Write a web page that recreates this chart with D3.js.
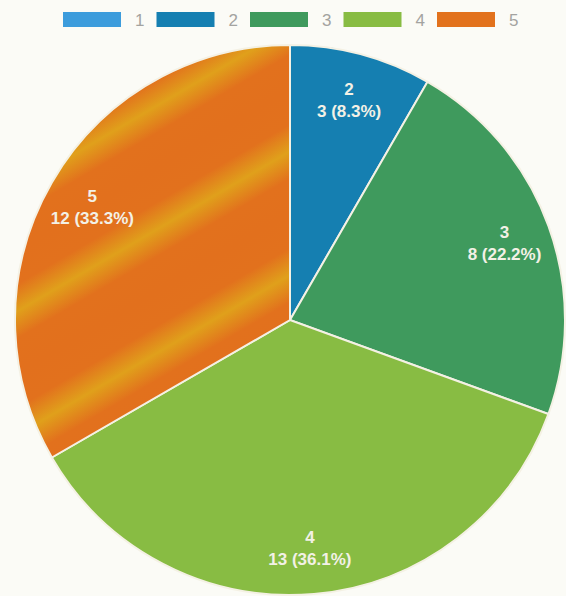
<!DOCTYPE html>
<html>
<head>
<meta charset="utf-8">
<script src="https://cdn.jsdelivr.net/npm/d3@7"></script>
<style>
  html, body { margin: 0; padding: 0; background: #fbfbf6; }
  svg { display: block; }
</style>
</head>
<body>
<svg id="chart" width="566" height="596"></svg>
<script>
// Rating categories and how many responses each received
const categories = ["1", "2", "3", "4", "5"];
const counts = [0, 3, 8, 13, 12];
const colors = ["#3c9cdc", "#157fb1", "#3f9a5d", "#88bc43", "#e2721d"];

const width = 566, height = 596;
const cx = 290, cy = 320, radius = 275;

const svg = d3.select("#chart");

const total = d3.sum(counts);
const data = categories.map((c, i) => ({ name: c, value: counts[i], color: colors[i] }));

// Ink banding on the orange slice: soft, broad yellow diagonal streaks
const defs = svg.append("defs");
const band = defs.append("linearGradient")
  .attr("id", "band5")
  .attr("gradientUnits", "userSpaceOnUse")
  .attr("spreadMethod", "repeat")
  .attr("x1", -47).attr("y1", -203)
  .attr("x2", 7).attr("y2", -111);
[[0, "#e2701d"], [0.28, "#e2711d"], [0.5, "#e0a01b"], [0.72, "#e2711d"], [1, "#e2701d"]]
  .forEach(([o, c]) => band.append("stop").attr("offset", o).attr("stop-color", c));

// Legend across the top
const legendX = d3.scalePoint().domain(categories).range([63, 437]);
const legend = svg.append("g").attr("class", "legend");
const items = legend.selectAll("g").data(data).join("g")
  .attr("transform", d => `translate(${legendX(d.name)},12)`);
items.append("rect")
  .attr("width", 58).attr("height", 15)
  .attr("fill", d => d.color);
items.append("text")
  .attr("x", 72).attr("y", 13.5)
  .attr("font-family", "Liberation Sans, Arial, sans-serif")
  .attr("font-size", 17)
  .attr("fill", "#a3a3a0")
  .text(d => d.name);

// Pie, starting at 12 o'clock and running clockwise
const pie = d3.pie().sort(null).value(d => d.value).startAngle(0).endAngle(2 * Math.PI);
const arcs = pie(data);
const arc = d3.arc().innerRadius(0).outerRadius(radius);
const labelArc = d3.arc().innerRadius(radius * 0.83).outerRadius(radius * 0.83);

const g = svg.append("g").attr("transform", `translate(${cx},${cy})`);
g.selectAll("path").data(arcs.filter(a => a.data.value > 0)).join("path")
  .attr("d", arc)
  .attr("fill", d => d.data.name === "5" ? "url(#band5)" : d.data.color)
  .attr("stroke", "#f4f1e4")
  .attr("stroke-width", 2);

const fmt = d3.format(".1%");
const labels = g.selectAll("text.slice").data(arcs.filter(a => a.data.value > 0)).join("text")
  .attr("class", "slice")
  .attr("transform", d => `translate(${labelArc.centroid(d)})`)
  .attr("text-anchor", "middle")
  .attr("font-family", "Liberation Sans, Arial, sans-serif")
  .attr("font-weight", "bold")
  .attr("font-size", 17)
  .attr("fill", "#f3f1e6");
labels.append("tspan").attr("x", 0).attr("dy", "-0.25em").text(d => d.data.name);
labels.append("tspan").attr("x", 0).attr("dy", "1.3em")
  .text(d => `${d.data.value} (${fmt(d.data.value / total)})`);
</script>
</body>
</html>
